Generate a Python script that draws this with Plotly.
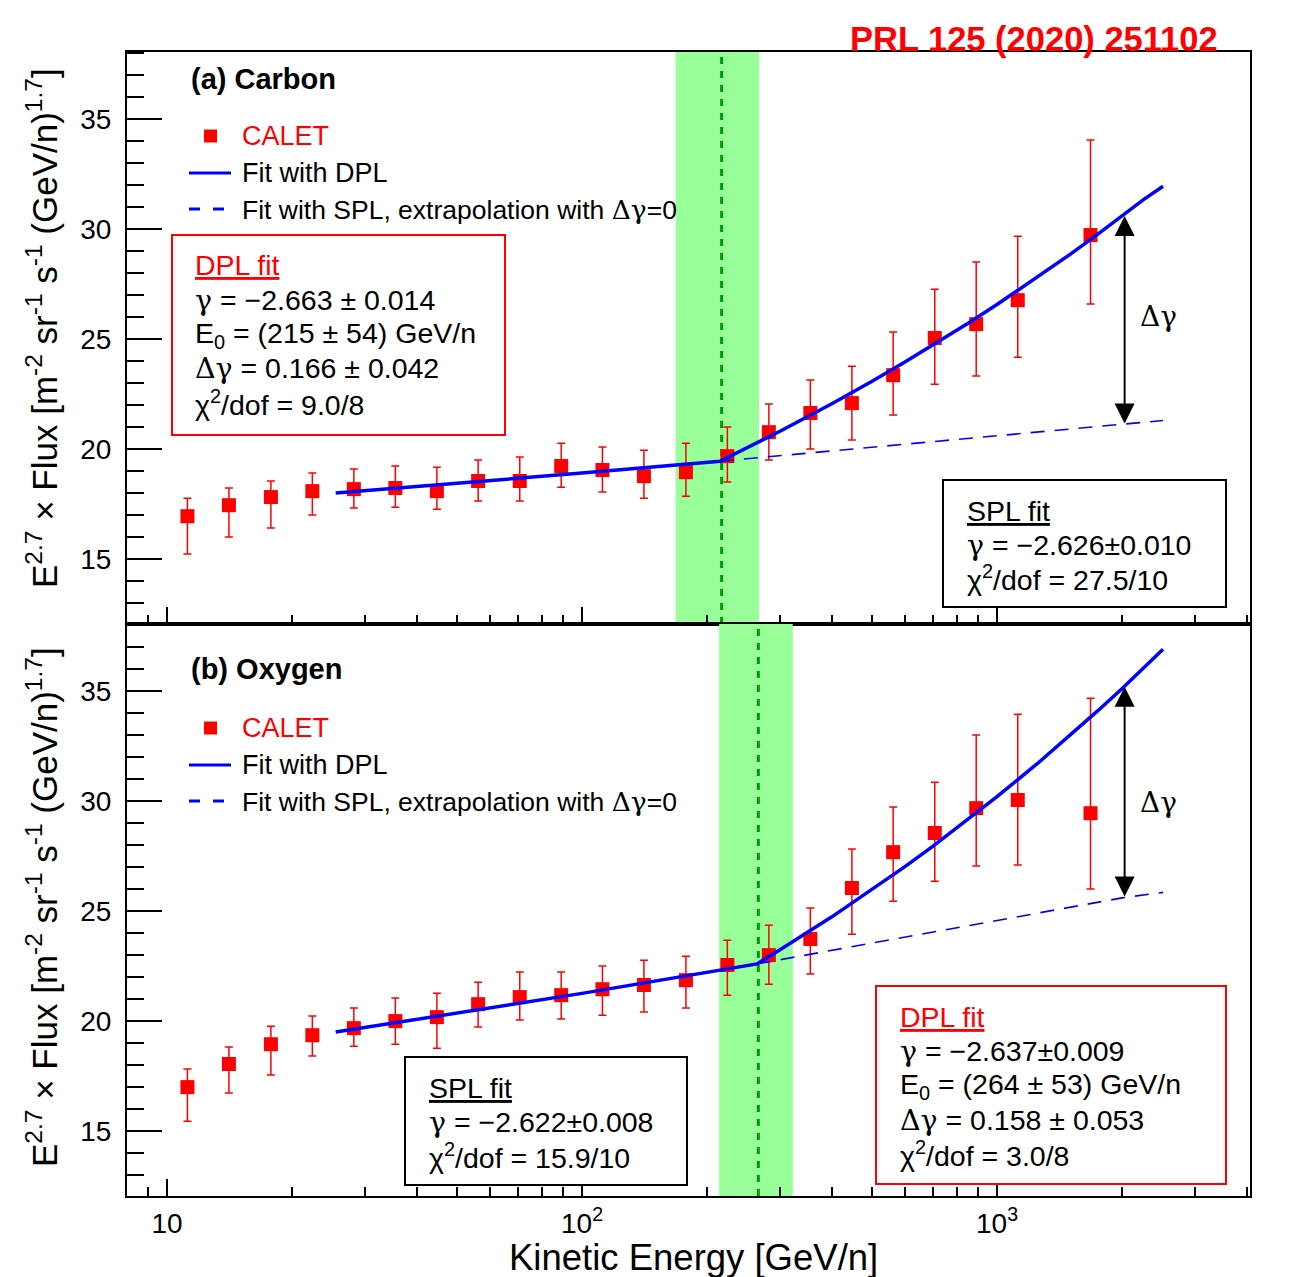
import math
import plotly.graph_objects as go

W, H = 1301, 1277
FONT = "Liberation Sans"

# ---------------- data ----------------
energy = [11.2, 14.1, 17.8, 22.4, 28.2, 35.5, 44.7, 56.2, 70.8, 89.1, 112,
          141, 178, 224, 282, 355, 447, 562, 708, 891, 1122, 1680]

carbon_flux = [16.95, 17.45, 17.82, 18.09, 18.18, 18.23, 18.09, 18.55, 18.55, 19.23, 19.05,
               18.77, 18.95, 19.68, 20.77, 21.64, 22.09, 23.36, 25.05, 25.68, 26.77, 29.73]
carbon_hi = [17.77, 18.23, 18.55, 18.91, 19.09, 19.23, 19.18, 19.50, 19.64, 20.27, 20.09,
             19.95, 20.27, 21.00, 22.05, 23.14, 23.77, 25.32, 27.27, 28.50, 29.68, 34.05]
carbon_lo = [15.23, 16.00, 16.41, 17.00, 17.32, 17.36, 17.27, 17.64, 17.64, 18.27, 18.05,
             17.77, 17.86, 18.50, 19.50, 20.00, 20.41, 21.55, 22.95, 23.32, 24.18, 26.59]

oxygen_flux = [17.00, 18.05, 18.95, 19.36, 19.68, 20.00, 20.18, 20.77, 21.09, 21.18, 21.45,
               21.64, 21.86, 22.55, 23.00, 23.73, 26.05, 27.68, 28.55, 29.68, 30.05, 29.45]
oxygen_hi = [17.82, 18.82, 19.77, 20.23, 20.59, 21.05, 21.27, 21.77, 22.23, 22.23, 22.50,
             22.77, 22.95, 23.68, 24.36, 25.14, 27.82, 29.73, 30.86, 33.00, 33.95, 34.68]
oxygen_lo = [15.45, 16.73, 17.55, 18.41, 18.86, 18.95, 18.77, 19.73, 20.05, 20.09, 20.27,
             20.41, 20.59, 21.18, 21.68, 22.14, 23.95, 25.45, 26.36, 27.05, 27.09, 26.00]

carbon_dpl_E = [25.5, 50, 100, 215, 250, 300, 400, 500, 600, 700, 850, 1000, 1250, 1500,
                1750, 2000, 2250, 2512]
carbon_dpl_V = [18.0, 18.43, 18.91, 19.45, 20.06, 20.81, 22.06, 23.08, 23.96, 24.72, 25.71,
                26.57, 27.80, 28.85, 29.77, 30.6, 31.33, 31.95]
carbon_spl_E = [215, 1000, 2000, 2512]
carbon_spl_V = [19.45, 20.59, 21.1, 21.3]

oxygen_dpl_E = [25.5, 50, 100, 264, 300, 400, 500, 600, 700, 850, 1000, 1250, 1500, 1750,
                2000, 2250, 2512]
oxygen_dpl_V = [19.5, 20.35, 21.26, 22.6, 23.24, 24.74, 25.97, 27.02, 27.94, 29.15, 30.20,
                31.70, 32.98, 34.11, 35.11, 36.02, 36.9]
oxygen_spl_E = [264, 1000, 2000, 2512]
oxygen_spl_V = [22.6, 24.58, 25.6, 25.85]

carbon_E0, carbon_band = 217, [168, 267]
oxygen_E0, oxygen_band = 266, [214, 322]
arrow_E = 2030
carbon_arrow = [21.1, 30.6]
oxygen_arrow = [25.6, 35.2]

x_tickvals = [10, 100, 1000]
x_ticktext = ["10", "10<sup>2</sup>", "10<sup>3</sup>"]
x_minor = [8, 9, 20, 30, 40, 50, 60, 70, 80, 90, 200, 300, 400, 500, 600, 700, 800, 900,
           2000, 3000, 4000]
y_range = [12.05, 38.05]

# ---------------- helpers ----------------
def px(x):
    return x / W

def py(y):
    return 1 - y / H

RED = "#ff0000"
BLUE = "#0000ff"
GREEN_BAND = "#99ff99"
GREEN_LINE = "#009900"
G = '<span style="font-family:DejaVu Serif">γ</span>'
DG = '<span style="font-family:DejaVu Serif">Δγ</span>'

fig = go.Figure()

def add_panel(xa, ya, flux, hi, lo, dplE, dplV, splE, splV, E0, band):
    fig.add_trace(go.Scatter(x=[band[0], band[1], band[1], band[0], band[0]],
                             y=[y_range[0], y_range[0], y_range[1], y_range[1], y_range[0]],
                             fill="toself", fillcolor=GREEN_BAND, mode="lines",
                             line=dict(width=0, color=GREEN_BAND), xaxis=xa, yaxis=ya,
                             showlegend=False, hoverinfo="skip"))
    fig.add_trace(go.Scatter(x=[E0, E0], y=y_range, mode="lines",
                             line=dict(color=GREEN_LINE, width=3, dash="7px,7px"),
                             xaxis=xa, yaxis=ya, showlegend=False, hoverinfo="skip"))
    fig.add_trace(go.Scatter(x=energy, y=flux, mode="markers",
                             marker=dict(symbol="square", size=14, color=RED),
                             error_y=dict(type="data", symmetric=False,
                                          array=[h - f for h, f in zip(hi, flux)],
                                          arrayminus=[f - l for l, f in zip(lo, flux)],
                                          color=RED, thickness=1.5, width=4),
                             xaxis=xa, yaxis=ya, showlegend=False))
    fig.add_trace(go.Scatter(x=splE, y=splV, mode="lines",
                             line=dict(color=BLUE, width=1.6, dash="14px,10px"),
                             xaxis=xa, yaxis=ya, showlegend=False))
    fig.add_trace(go.Scatter(x=dplE, y=dplV, mode="lines",
                             line=dict(color=BLUE, width=3.5),
                             xaxis=xa, yaxis=ya, showlegend=False))

add_panel("x", "y", carbon_flux, carbon_hi, carbon_lo, carbon_dpl_E, carbon_dpl_V,
          carbon_spl_E, carbon_spl_V, carbon_E0, carbon_band)
add_panel("x2", "y2", oxygen_flux, oxygen_hi, oxygen_lo, oxygen_dpl_E, oxygen_dpl_V,
          oxygen_spl_E, oxygen_spl_V, oxygen_E0, oxygen_band)

xdom = [px(127), px(1250)]
xaxis_common = dict(type="log", range=[math.log10(8.01), math.log10(4070)], domain=xdom,
                    showline=True, linecolor="black", linewidth=2, mirror=True,
                    ticks="inside", ticklen=17, tickwidth=2, tickcolor="black",
                    tickmode="array", tickvals=x_tickvals, ticktext=x_ticktext,
                    showgrid=False, zeroline=False,
                    tickfont=dict(family=FONT, size=28, color="black"),
                    minor=dict(ticks="inside", ticklen=9, tickwidth=2, tickcolor="black",
                               tickmode="array", tickvals=x_minor, showgrid=False))
yaxis_common = dict(range=y_range, showline=True, linecolor="black", linewidth=2, mirror=True,
                    ticks="inside", ticklen=35, tickwidth=2, tickcolor="black",
                    tickmode="linear", tick0=15, dtick=5, showgrid=False, zeroline=False,
                    tickfont=dict(family=FONT, size=28, color="black"),
                    ticklabelstandoff=8,
                    minor=dict(ticks="inside", ticklen=17, tickwidth=2, tickcolor="black",
                               tickmode="linear", tick0=12, dtick=1, showgrid=False))

fig.update_layout(
    width=W, height=H, margin=dict(l=0, r=0, t=0, b=0),
    paper_bgcolor="white", plot_bgcolor="rgba(0,0,0,0)",
    font=dict(family=FONT, color="black"),
    xaxis=dict(**xaxis_common, anchor="y", showticklabels=False),
    yaxis=dict(**yaxis_common, domain=[py(624), py(52)], anchor="x"),
    xaxis2=dict(**xaxis_common, anchor="y2", showticklabels=True, ticklabelstandoff=1),
    yaxis2=dict(**yaxis_common, domain=[py(1196), py(624)], anchor="x2"),
)

ann = []
shapes = []

def text(x, y, s, size=28.5, color="black", anchor="left", bold=False, family=FONT):
    if bold:
        s = "<b>" + s + "</b>"
    ann.append(dict(x=px(x), y=py(y), xref="paper", yref="paper", text=s, showarrow=False,
                    xanchor=anchor, yanchor="middle",
                    font=dict(family=family, size=size, color=color)))

def box(x0, y0, x1, y1, color):
    shapes.append(dict(type="rect", xref="paper", yref="paper", x0=px(x0), x1=px(x1),
                       y0=py(y1), y1=py(y0), line=dict(color=color, width=2),
                       fillcolor="white", layer="above"))

def legend(y0):
    shapes.append(dict(type="rect", xref="paper", yref="paper", x0=px(204), x1=px(217),
                       y0=py(y0 + 6.5), y1=py(y0 - 6.5), line=dict(width=0), fillcolor=RED))
    text(240, y0, "CALET", color=RED, size=27)
    shapes.append(dict(type="line", xref="paper", yref="paper", x0=px(189), x1=px(231),
                       y0=py(y0 + 37), y1=py(y0 + 37), line=dict(color=BLUE, width=3)))
    text(240, y0 + 37, "Fit with DPL", size=27)
    for a, b in [(189, 200), (213, 224)]:
        shapes.append(dict(type="line", xref="paper", yref="paper", x0=px(a), x1=px(b),
                           y0=py(y0 + 73), y1=py(y0 + 73), line=dict(color=BLUE, width=3)))
    text(240, y0 + 73, "Fit with SPL, extrapolation with " + DG + "=0", size=26.5)

# top-right reference
text(1220, 39, "PRL 125 (2020) 251102", size=34.5, color=RED, anchor="right", bold=True)

# ---- panel (a) ----
text(189, 79, "(a) Carbon", size=29, bold=True)
legend(136)
box(172, 235, 505, 435, RED)
text(193, 265, "<u>DPL fit</u>", color=RED)
text(193, 300, G + " = −2.663 ± 0.014")
text(193, 335, "E<sub>0</sub> = (215 ± 54) GeV/n")
text(193, 369, DG + " = 0.166 ± 0.042")
text(193, 403, "χ<sup>2</sup>/dof = 9.0/8")
box(943, 480, 1226, 607, "black")
text(965, 511, "<u>SPL fit</u>")
text(965, 545, G + " = −2.626±0.010")
text(965, 578, "χ<sup>2</sup>/dof = 27.5/10")
text(1138, 317, "Δγ", size=28, family="DejaVu Serif")

# ---- panel (b) ----
text(189, 669, "(b) Oxygen", size=29, bold=True)
legend(728)
box(405, 1057, 687, 1185, "black")
text(427, 1088, "<u>SPL fit</u>")
text(427, 1122, G + " = −2.622±0.008")
text(427, 1156, "χ<sup>2</sup>/dof = 15.9/10")
box(876, 986, 1226, 1184, RED)
text(898, 1017, "<u>DPL fit</u>", color=RED)
text(898, 1051, G + " = −2.637±0.009")
text(898, 1086, "E<sub>0</sub> = (264 ± 53) GeV/n")
text(898, 1120, DG + " = 0.158 ± 0.053")
text(898, 1154, "χ<sup>2</sup>/dof = 3.0/8")
text(1138, 802, "Δγ", size=28, family="DejaVu Serif")

# arrows
for xa, ya, (lo_v, hi_v) in [("x", "y", carbon_arrow), ("x2", "y2", oxygen_arrow)]:
    ann.append(dict(x=math.log10(arrow_E), y=hi_v, xref=xa, yref=ya,
                    ax=math.log10(arrow_E), ay=lo_v, axref=xa, ayref=ya,
                    showarrow=True, arrowhead=2, startarrowhead=2, arrowside="end+start",
                    arrowsize=2.0, startarrowsize=2.0, arrowwidth=2, arrowcolor="black",
                    text="", standoff=0, startstandoff=0))

# axis titles
ytitle = ("E<sup>2.7</sup> × Flux [m<sup>-2</sup> sr<sup>-1</sup> s<sup>-1</sup> "
          "(GeV/n)<sup>1.7</sup>]")
for yc in (328, 907):
    ann.append(dict(x=px(42), y=py(yc), xref="paper", yref="paper", text=ytitle,
                    showarrow=False, textangle=-90, xanchor="center", yanchor="middle",
                    font=dict(family=FONT, size=35, color="black")))
text(693, 1257, "Kinetic Energy [GeV/n]", size=36.5, anchor="center")

fig.update_layout(annotations=ann, shapes=shapes)
fig.write_html("out.html")
